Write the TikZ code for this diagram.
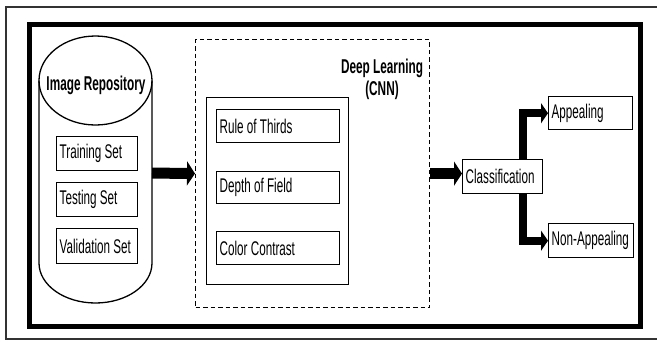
\documentclass[tikz,border=0pt]{standalone}
\usepackage{fontspec}
\usetikzlibrary{arrows.meta}
\newfontfamily\nf[FakeStretch=0.59]{Liberation Sans}
\begin{document}
\begin{tikzpicture}[x=1pt,y=-1pt,
  every node/.style={font=\nf\fontsize{19.8}{22}\selectfont},
  box/.style={draw, line width=1.4pt, anchor=north west, inner xsep=3pt, inner ysep=0pt, align=flush left},
  bigarrow/.style={line width=11pt, -{Triangle[length=8pt,width=24pt]}},
  brarrow/.style={line width=8pt, -{Triangle[length=7pt,width=20pt]}},
  lbl/.style={font=\nf\bfseries\fontsize{20}{22}\selectfont, align=flush center, inner sep=0pt}]
\useasboundingbox (0,0) rectangle (657,341);
% frames
\draw[line width=1.2pt, black!80] (660,7) -- (6,7) -- (6,339) -- (660,339);
\draw[line width=5pt] (29,24) rectangle (640,326);
% cylinder
\draw[line width=1.3pt] (39,80.5) -- (39,263) arc[start angle=180, end angle=0, x radius=56.5, y radius=40] -- (152,80.5);
\draw[line width=1.3pt] (95.5,80.5) ellipse [x radius=56.5, y radius=44.5];
\node[lbl] (repo) at (96,85) {Image Repository};
\coordinate (cylE) at (152,173);
\node[box, text width=75pt, minimum height=34pt] (train) at (56,136) {Training Set};
\node[box, text width=75pt, minimum height=34pt] (test) at (56,182) {Testing Set};
\node[box, text width=75pt, minimum height=35pt] (valid) at (56,228) {Validation Set};
% deep learning block
\node[draw, line width=1.2pt, dash pattern=on 4.5pt off 3pt, minimum width=234pt, minimum height=268pt, anchor=north west, inner sep=0pt] (dl) at (195,39) {};
\node[lbl] (dllbl) at (382,79) {Deep Learning\\(CNN)};
\node[draw, line width=1.4pt, minimum width=142pt, minimum height=187pt, anchor=north west, inner sep=0pt] (inner) at (206,97) {};
\node[box, text width=117pt, minimum height=33pt] (rot) at (216,109) {Rule of Thirds};
\node[box, text width=117pt, minimum height=32pt] (dof) at (216,171) {Depth of Field};
\node[box, text width=117pt, minimum height=33pt] (cc) at (216,231) {Color Contrast};
% classification
\node[box, text width=74pt, minimum height=34pt] (cls) at (462,159) {Classification};
\node[box, text width=78pt, minimum height=33pt] (app) at (548,96) {Appealing};
\node[box, text width=79pt, minimum height=34pt] (napp) at (548,223) {Non-Appealing};
% arrows
\draw[bigarrow] (cylE) -- (dl.west);
\draw[bigarrow] (dl.east) -- (dl.east -| cls.west);
\draw[brarrow] ([xshift=60.5pt]cls.north west) |- (app.west);
\draw[brarrow] ([xshift=60.5pt]cls.south west) |- (napp.west);
\end{tikzpicture}
\end{document}
